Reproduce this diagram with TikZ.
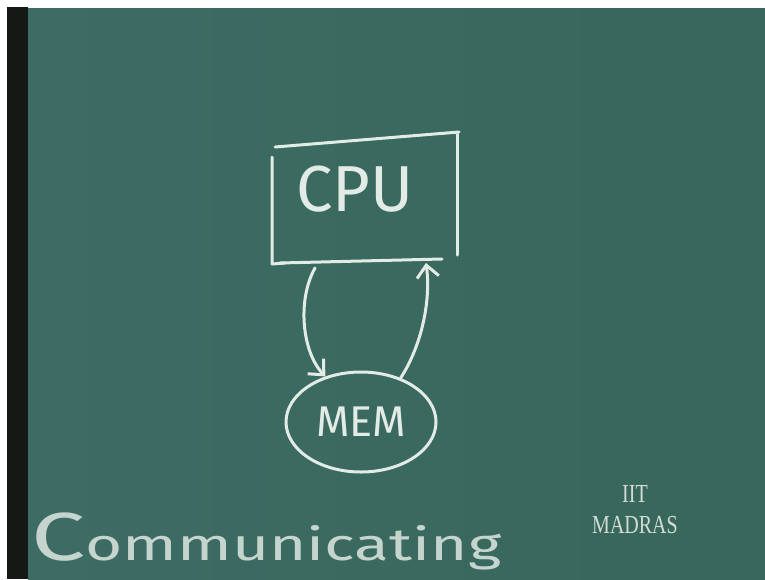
\documentclass[tikz,border=0pt]{standalone}
\usepackage{fontspec}
\setmainfont{Fira Sans}
\newfontfamily\stampfont{Liberation Serif}
\usetikzlibrary{arrows.meta,positioning,shapes.geometric}
\definecolor{board}{HTML}{37665A}
\definecolor{boardlight}{HTML}{477B6D}
\definecolor{boarddark}{HTML}{3D6C65}
\definecolor{frame}{HTML}{161815}
\definecolor{chalk}{HTML}{E2EBE6}
\definecolor{chalkdim}{HTML}{C6D4CE}
\definecolor{stamp}{HTML}{D3DBD8}

\begin{document}
\begin{tikzpicture}[x=1pt,y=-1pt,
  chalkline/.style={draw=chalk,line width=3pt,line cap=round,line join=round},
  chalkarrow/.style={chalkline,-{Straight Barb[length=12pt,width=22pt]}},
  chalktext/.style={text=chalk,inner sep=0pt}]
  \useasboundingbox (0,0) rectangle (765,579);
  \clip (0,0) rectangle (765,579);
  % board
  \fill[white] (0,0) rectangle (765,579);
  \fill[frame] (7,7) rectangle (28,579);
  \shade[left color=boarddark,middle color=boardlight,right color=board] (28,8) rectangle (765,579);
  % cpu box
  \node[chalktext,font=\fontsize{65}{65}\selectfont] (cpu) at (355,189) {CPU};
  \draw[chalkline] (275,147) -- (459,132);
  \draw[chalkline] (272,157) -- (272,264) -- (285,263);
  \draw[chalkline] (457,134) -- (457,255);
  \draw[chalkline] (280,263) -- (442,259);
  % memory
  \node[ellipse,chalkline,chalktext,minimum width=150pt,minimum height=100pt,
        font=\fontsize{43}{43}\selectfont] (mem) at (361,422) {MEM};
  % transfers
  \coordinate (cpuout) at (315,268);
  \coordinate (cpuin) at (426,263);
  \draw[chalkarrow] (cpuout) .. controls (297,300) and (302,352) .. (mem.128);
  \draw[chalkarrow] (mem.48) .. controls (422,345) and (431,300) .. (cpuin);
  % word at the bottom
  \node[anchor=base west,text=chalkdim,inner sep=0pt,xscale=1.42,
        font=\fontsize{45}{45}\selectfont] (word) at (31,560)
        {{\fontsize{68}{68}\selectfont C}ommunicating};
  % logo
  \node[text=stamp,align=center,yscale=1.3,
        font=\stampfont\fontsize{20}{24}\selectfont] (logo) at (635,510) {IIT\\MADRAS};
\end{tikzpicture}
\end{document}
